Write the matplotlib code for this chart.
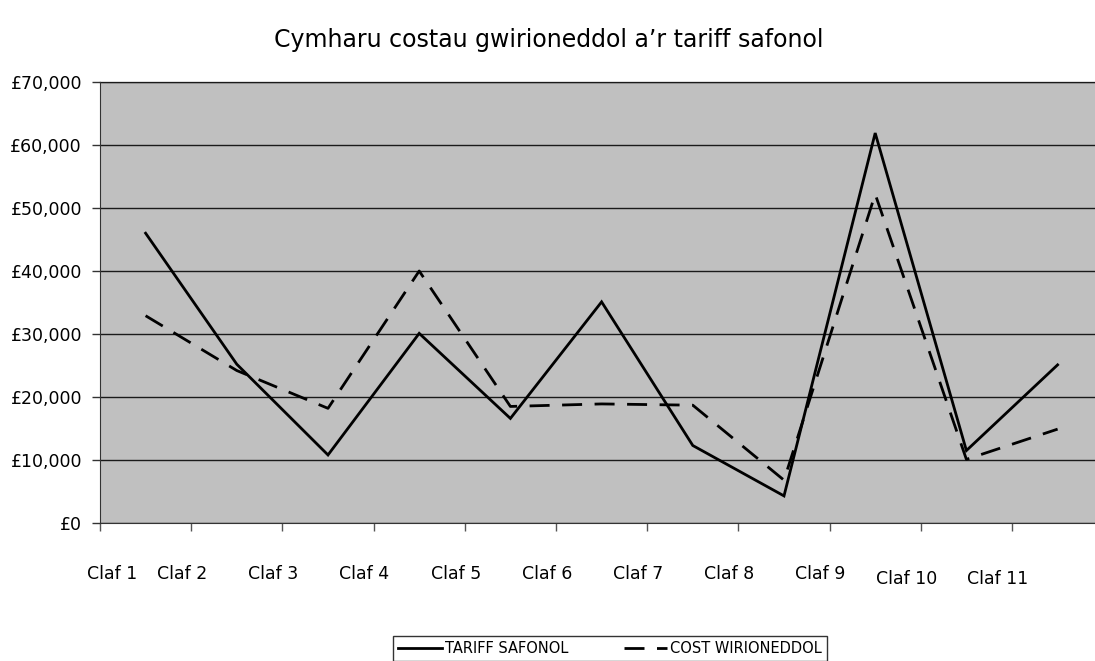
import matplotlib
matplotlib.use("Agg")
import matplotlib.pyplot as plt
import matplotlib.transforms as mtransforms
from matplotlib.ticker import FuncFormatter, MultipleLocator

categories = ["Claf 1", "Claf 2", "Claf 3", "Claf 4", "Claf 5", "Claf 6",
              "Claf 7", "Claf 8", "Claf 9", "Claf 10", "Claf 11"]
tariff_safonol = [46000, 25200, 10800, 30100, 16600, 35100, 12300, 4300, 61900, 11500, 25100]
cost_wirioneddol = [32900, 24200, 18200, 40000, 18500, 18900, 18700, 6800, 52200, 10100, 14900]
title = "Cymharu costau gwirioneddol a\u2019r tariff safonol"
legend_labels = ["TARIFF SAFONOL", "COST WIRIONEDDOL"]

plt.rcParams['font.family'] = ['DejaVu Sans']

W, H = 1095, 661
fig = plt.figure(figsize=(W / 100, H / 100), dpi=100)
left_px, right_px, top_px, bottom_px = 100, 1095, 82, 523
ax = fig.add_axes([left_px / W, 1 - bottom_px / H, (right_px - left_px) / W, (bottom_px - top_px) / H])
ax.set_facecolor("#C0C0C0")

x = list(range(len(categories)))
cat_w = 91.2

ax.plot(x, tariff_safonol, color="black", lw=2.0, solid_joinstyle="miter", label=legend_labels[0], zorder=3)
ax.plot(x, cost_wirioneddol, color="black", lw=2.0, dashes=(7.2, 4.5), label=legend_labels[1], zorder=3)

# y axis
ax.yaxis.set_major_locator(MultipleLocator(10000))
ax.yaxis.set_major_formatter(FuncFormatter(lambda v, p: "\u00a3{:,.0f}".format(v)))
ax.grid(axis="y", color="#1a1a1a", lw=1.0, zorder=1)
ax.tick_params(axis="y", direction="out", length=6, width=1, color="#333333", pad=7, labelsize=12.5)

# x axis: tick marks at category boundaries, labels placed separately
ax.set_xticks([i - 0.5 for i in range(len(categories) + 1)])
ax.set_xticklabels([])
ax.tick_params(axis="x", direction="out", length=6, width=1, color="#555555")

ax.set_xlim(-0.5, (right_px - left_px) / cat_w - 0.5)
ax.set_ylim(0, 70000)

tr = mtransforms.blended_transform_factory(ax.transData, fig.transFigure)
for i, lab in enumerate(categories):
    xpos = i - 0.6
    dx_px, dy_px = 0, 0
    if i == 0:
        xpos = -0.37
    if i >= 9:
        dx_px, dy_px = -5, -5
    off = mtransforms.ScaledTranslation(dx_px / 100, dy_px / 100, fig.dpi_scale_trans)
    ax.text(xpos, 1 - 574 / H, lab, transform=tr + off, ha="center", va="center", fontsize=12.5, clip_on=False)

for s in ["top", "right"]:
    ax.spines[s].set_visible(False)
ax.spines["left"].set_color("#333333")
ax.spines["bottom"].set_color("#333333")
ax.axhline(70000, color="#555555", lw=1.0, clip_on=False, zorder=1)

fig.text(549 / W, 1 - 40 / H, title, ha="center", va="center", fontsize=17)

leg = fig.legend(loc="upper left", bbox_to_anchor=(393 / W, 1 - 636 / H), ncol=2, frameon=True,
                 fancybox=False, edgecolor="black", fontsize=10.5, handlelength=3.0,
                 handletextpad=0.2, columnspacing=3.8, borderpad=0.35, borderaxespad=0)
leg.get_frame().set_linewidth(1.0)

fig.savefig("out.png", dpi=100)
